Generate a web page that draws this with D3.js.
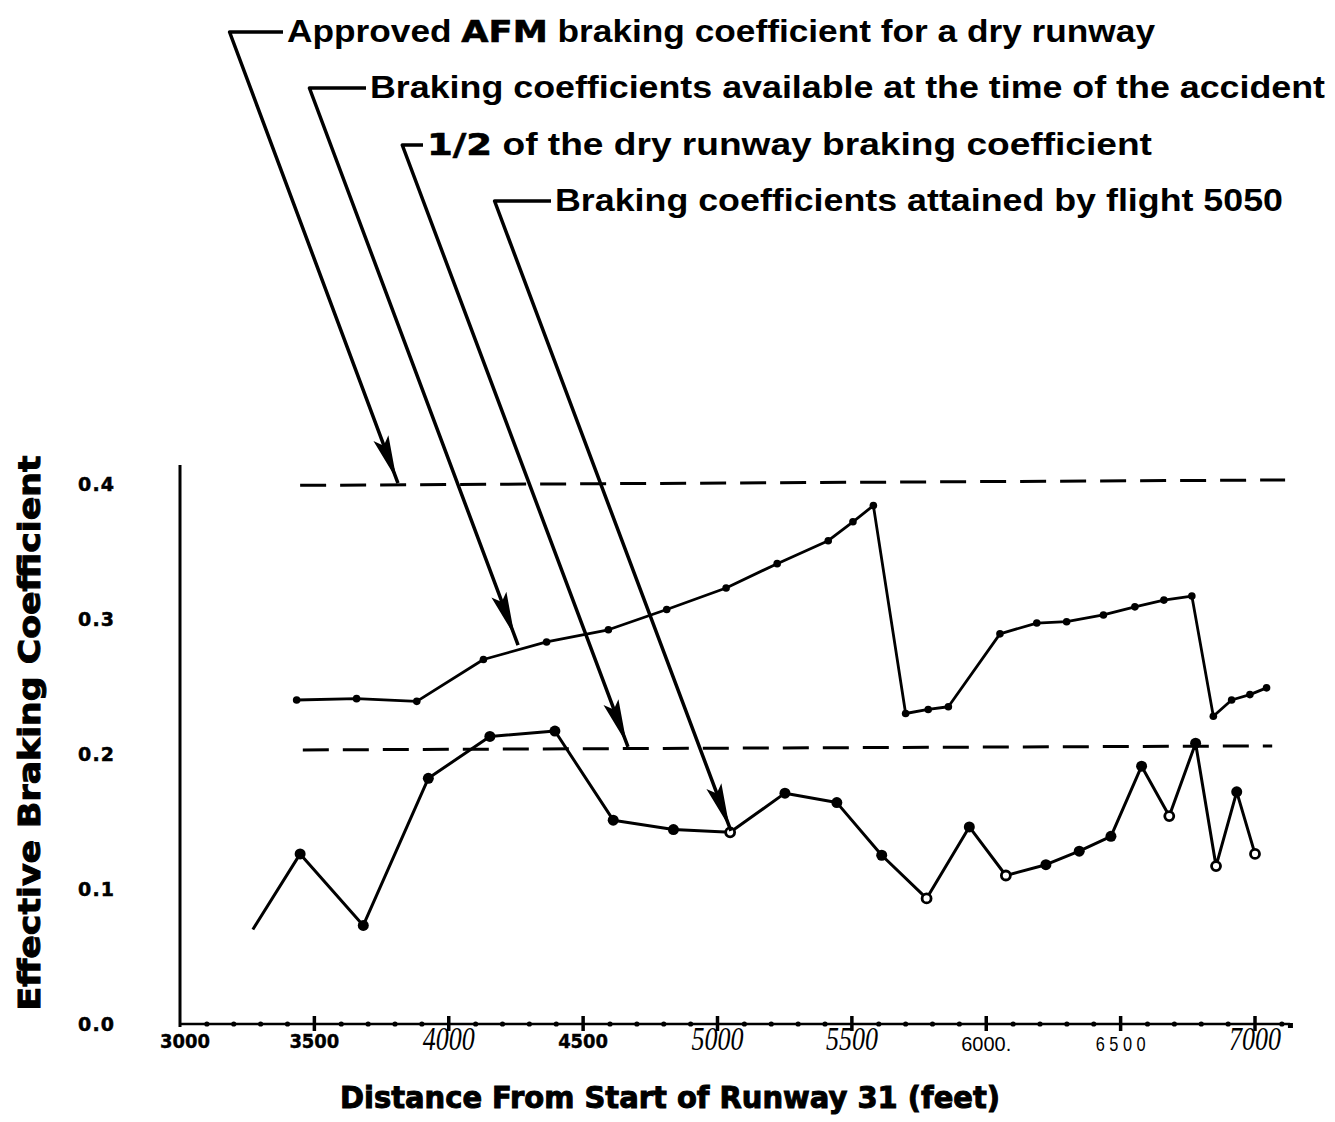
<!DOCTYPE html>
<html><head><meta charset="utf-8">
<script src="https://cdn.jsdelivr.net/npm/d3@7"></script>
<style>body{margin:0;background:#fff} svg{display:block}</style>
</head><body>
<svg id="c" width="1335" height="1122"></svg>
<script>
// ---- data ----
const availX = [3434,3657,3881,4129,4364,4594,4811,5032,5222,5412,5504,5580,5700,5784,5859,6051,6188,6299,6436,6553,6661,6765,6845,6913,6981,7043];
const availY = [0.240,0.241,0.239,0.270,0.283,0.292,0.307,0.323,0.341,0.358,0.372,0.384,0.230,0.233,0.235,0.289,0.297,0.298,0.303,0.309,0.314,0.317,0.228,0.240,0.244,0.249];

const flightX = [3271,3447,3682,3924,4153,4395,4612,4836,5047,5251,5444,5611,5778,5937,6073,6222,6346,6464,6578,6681,6779,6855,6932,7000];
const flightY = [0.070,0.126,0.073,0.182,0.213,0.217,0.151,0.144,0.142,0.171,0.164,0.125,0.093,0.146,0.110,0.118,0.128,0.139,0.191,0.154,0.208,0.117,0.172,0.126];
const flightMarker = ["none","filled","filled","filled","filled","filled","filled","filled","open","filled","filled","filled","open","filled","open","filled","filled","filled","filled","open","filled","open","filled","open"];

const dryLineX = [3447, 7112];
const dryLineY = [0.399, 0.403];
const halfLineX = [3457, 7064];
const halfLineY = [0.203, 0.206];

const yTicks = [0, 0.1, 0.2, 0.3, 0.4];
const yTickLabels = ["0.0", "0.1", "0.2", "0.3", "0.4"];
const xTicks = [3000,3500,4000,4500,5000,5500,6000,6500,7000];
const xTickLabels = ["3000","3500","4000","4500","5000","5500","6000.","6 5 0 0","7000"];
const xTickStyle = ["bold","bold","serif","bold","serif","serif","plain","plain","serif"];

const annoTexts = [
  ["Approved ", "AFM", " braking coefficient for a dry runway"],
  ["Braking coefficients available at the time of the accident"],
  ["1/2", " of the dry runway braking coefficient"],
  ["Braking coefficients attained by flight 5050"]
];
const annoTipX = [3811, 4258, 4667, 5050];
const annoTipY = [0.4007, 0.2807, 0.2052, 0.143];

const xTitle = "Distance From Start of Runway 31 (feet)";
const yTitle = "Effective Braking Coefficient";

// ---- layout ----
const svg = d3.select("#c");
const x = d3.scaleLinear().domain([3000, 7000]).range([180, 1255]);
const y = d3.scaleLinear().domain([0, 0.4]).range([1024, 484]);

// axes
svg.append("line").attr("x1", x(3000)).attr("x2", x(3000))
  .attr("y1", y(0) + 3).attr("y2", y(0.414))
  .attr("stroke", "#000").attr("stroke-width", 3);
svg.append("line").attr("x1", x(3000)).attr("x2", x(7130))
  .attr("y1", y(0)).attr("y2", y(0))
  .attr("stroke", "#000").attr("stroke-width", 2.5);
svg.append("rect").attr("x", x(7130) - 2).attr("y", y(0) - 1).attr("width", 5).attr("height", 5).attr("fill", "#000");

// minor ticks (dots) and major ticks
const minor = d3.range(3100, 7101, 100).filter(v => v % 500 !== 0);
svg.selectAll(".mt").data(minor).enter().append("circle")
  .attr("cx", d => x(d)).attr("cy", y(0)).attr("r", 2.6).attr("fill", "#000");
svg.selectAll(".Mt").data(xTicks.slice(1)).enter().append("line")
  .attr("x1", d => x(d)).attr("x2", d => x(d))
  .attr("y1", y(0) - 8).attr("y2", y(0) + 7)
  .attr("stroke", "#000").attr("stroke-width", 3.5);

// x tick labels
const xl = svg.selectAll(".xl").data(xTicks).enter().append("text")
  .attr("x", d => x(d) + (d === 3000 ? 5 : 0))
  .attr("text-anchor", "middle")
  .text((d, i) => xTickLabels[i]);
xl.each(function(d, i) {
  const s = xTickStyle[i], t = d3.select(this);
  if (s === "bold") {
    t.attr("y", y(0) + 24).attr("font-family", "'DejaVu Sans'").attr("font-weight", "bold")
     .attr("font-size", 20).attr("stroke", "#000").attr("stroke-width", 0.4)
     .attr("textLength", 50).attr("lengthAdjust", "spacingAndGlyphs");
  } else if (s === "serif") {
    t.attr("y", y(0) + 26).attr("font-family", "'Liberation Serif'").attr("font-style", "italic")
     .attr("font-size", 34).attr("textLength", 52).attr("lengthAdjust", "spacingAndGlyphs");
  } else {
    t.attr("y", y(0) + 27).attr("font-family", "'Liberation Sans', Arial, sans-serif")
     .attr("font-size", 21).attr("textLength", 50).attr("lengthAdjust", "spacingAndGlyphs");
  }
});

// y tick labels
svg.selectAll(".yl").data(yTicks).enter().append("text")
  .attr("x", 96).attr("y", d => y(d) + 7)
  .attr("text-anchor", "middle")
  .attr("font-family", "'DejaVu Sans'").attr("font-weight", "bold").attr("font-size", 19)
  .attr("stroke", "#000").attr("stroke-width", 0.5)
  .attr("textLength", 36).attr("lengthAdjust", "spacing")
  .text((d, i) => yTickLabels[i]);

// axis titles
svg.append("text").attr("transform", "translate(40,733) rotate(-90)")
  .attr("text-anchor", "middle")
  .attr("font-family", "'DejaVu Sans'").attr("font-weight", "bold").attr("font-size", 31)
  .attr("stroke", "#000").attr("stroke-width", 1)
  .attr("textLength", 555).attr("lengthAdjust", "spacingAndGlyphs")
  .text(yTitle);
svg.append("text").attr("x", 670).attr("y", 1108)
  .attr("text-anchor", "middle")
  .attr("font-family", "'DejaVu Sans'").attr("font-weight", "bold").attr("font-size", 30)
  .attr("stroke", "#000").attr("stroke-width", 1)
  .attr("textLength", 660).attr("lengthAdjust", "spacingAndGlyphs")
  .text(xTitle);

// dashed reference lines
const dashLine = (xs, ys) => svg.append("line")
  .attr("x1", x(xs[0])).attr("y1", y(ys[0])).attr("x2", x(xs[1])).attr("y2", y(ys[1]))
  .attr("stroke", "#000").attr("stroke-width", 3).attr("stroke-dasharray", "26,14");
dashLine(dryLineX, dryLineY);
dashLine(halfLineX, halfLineY);

// available series
const avail = availX.map((v, i) => [v, availY[i]]);
const line = d3.line().x(d => x(d[0])).y(d => y(d[1]));
svg.append("path").attr("d", line(avail)).attr("fill", "none")
  .attr("stroke", "#000").attr("stroke-width", 2.8).attr("stroke-linejoin", "round");
svg.selectAll(".am").data(avail).enter().append("circle")
  .attr("cx", d => x(d[0])).attr("cy", d => y(d[1])).attr("r", 3.8).attr("fill", "#000");

// flight series
const flight = flightX.map((v, i) => [v, flightY[i], flightMarker[i]]);
svg.append("path").attr("d", line(flight)).attr("fill", "none")
  .attr("stroke", "#000").attr("stroke-width", 3).attr("stroke-linejoin", "round");
svg.selectAll(".fm").data(flight.filter(d => d[2] !== "none")).enter().append("circle")
  .attr("cx", d => x(d[0])).attr("cy", d => y(d[1]))
  .attr("r", d => d[2] === "open" ? 4.5 : 5.5)
  .attr("fill", d => d[2] === "open" ? "#fff" : "#000")
  .attr("stroke", "#000").attr("stroke-width", d => d[2] === "open" ? 2.8 : 0);

// annotations
const textX = [287, 370, 427, 555];
const textW = [868, 955, 725, 728];
const baseY = [42, 98, 155, 211];
const slope = 0.38;
annoTexts.forEach((parts, i) => {
  const t = svg.append("text").attr("x", textX[i]).attr("y", baseY[i])
    .attr("font-family", "'Liberation Sans', Arial, Helvetica, sans-serif").attr("font-weight", "bold").attr("font-size", 31)
    .attr("textLength", textW[i]).attr("lengthAdjust", "spacingAndGlyphs");
  parts.forEach(p => {
    const ts = t.append("tspan").text(p);
    if (p === "AFM" || p === "1/2") ts.attr("font-family", "'DejaVu Sans'").attr("stroke", "#000").attr("stroke-width", 0.6);
  });
  const tipX = x(annoTipX[i]), tipY = y(annoTipY[i]);
  const rowY = baseY[i] - 10;
  const cornerX = tipX - slope * (tipY - rowY);
  svg.append("path")
    .attr("d", `M${textX[i] - 4},${rowY} L${cornerX + 3},${rowY} L${tipX},${tipY}`)
    .attr("fill", "none").attr("stroke", "#000").attr("stroke-width", 3.5).attr("stroke-linejoin", "round");
  // arrowhead
  const dx = tipX - cornerX, dy = tipY - rowY, L = Math.hypot(dx, dy);
  const ux = dx / L, uy = dy / L, px = -uy, py = ux;
  const inset = i === 1 ? 10 : 4, len = 44, w = 8;
  const hx = tipX - ux * inset, hy = tipY - uy * inset;
  const bx = hx - ux * len, by = hy - uy * len;
  svg.append("path")
    .attr("d", `M${hx},${hy} L${bx + px * w},${by + py * w} L${bx + ux * 8},${by + uy * 8} L${bx - px * w},${by - py * w} Z`)
    .attr("fill", "#000");
});
</script>
</body></html>
